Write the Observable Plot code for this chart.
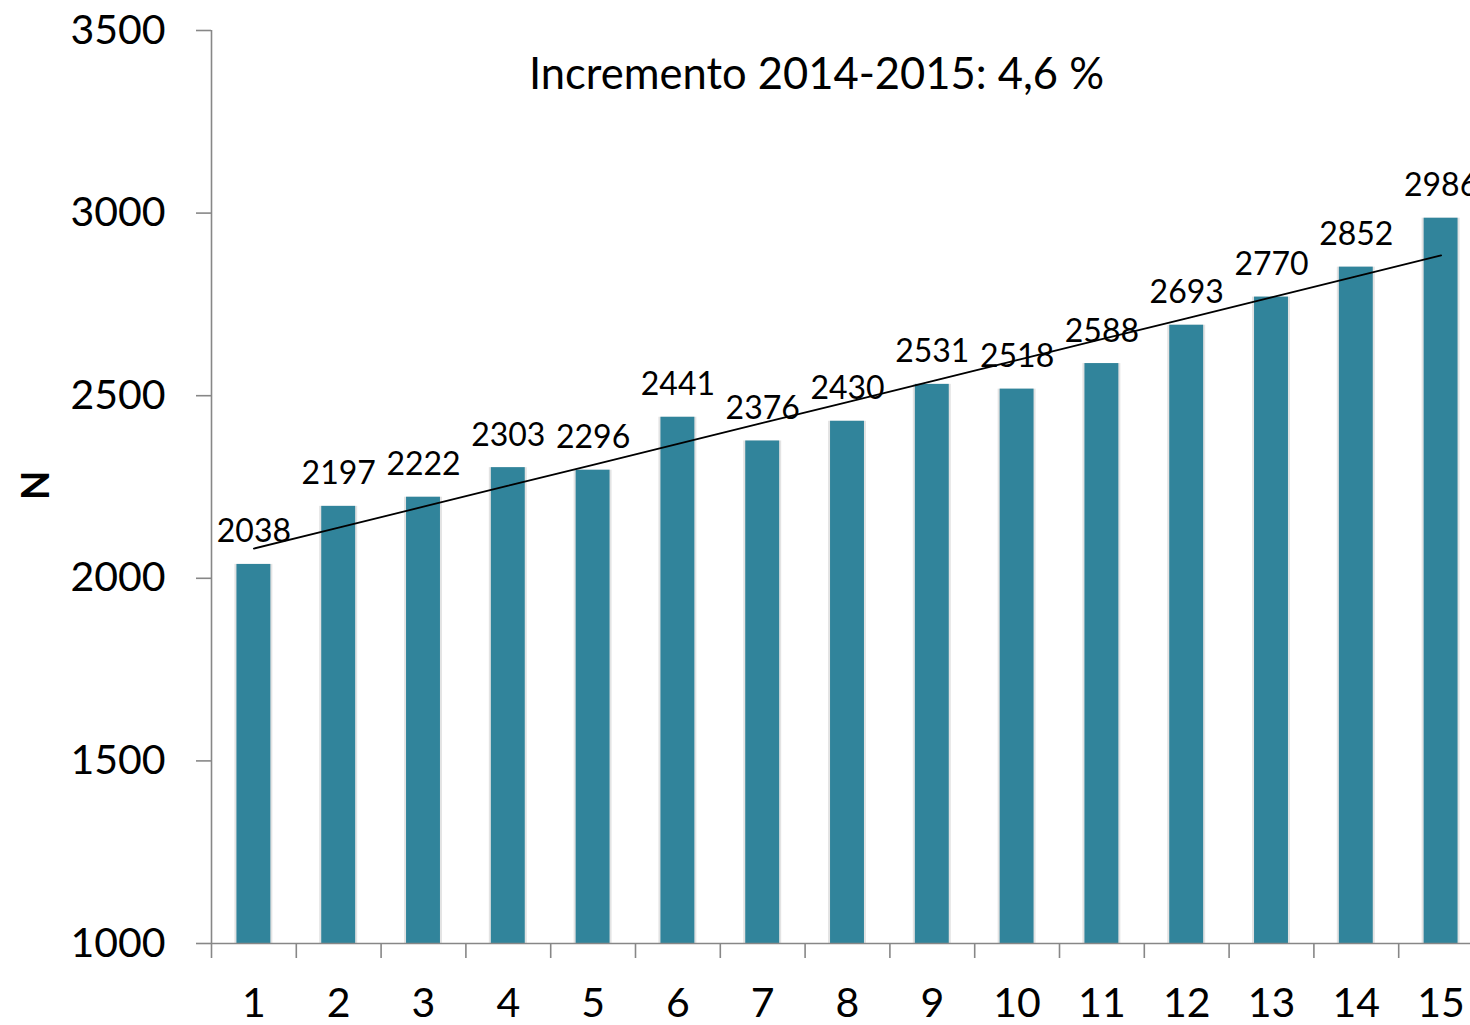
<!DOCTYPE html>
<html>
<head>
<meta charset="utf-8">
<script src="https://cdn.jsdelivr.net/npm/d3@7"></script>
<script src="https://cdn.jsdelivr.net/npm/@observablehq/plot@0.6"></script>
<style>
  html, body { margin: 0; padding: 0; background: #fff; }
  #chart { width: 1470px; height: 1025px; overflow: hidden; }
</style>
</head>
<body>
<div id="chart"></div>
<script>
const categories = [1, 2, 3, 4, 5, 6, 7, 8, 9, 10, 11, 12, 13, 14, 15];
const values = [2038, 2197, 2222, 2303, 2296, 2441, 2376, 2430, 2531, 2518, 2588, 2693, 2770, 2852, 2986];
const yTicks = [1000, 1500, 2000, 2500, 3000, 3500];
const titleText = "Incremento 2014-2015: 4,6 %";
const yLabel = "N";

const data = categories.map((c, i) => ({cat: c, value: values[i]}));

// linear trend (least squares) computed from the data
const xm = d3.mean(categories), ym = d3.mean(values);
const slope = d3.sum(categories, (c, i) => (c - xm) * (values[i] - ym)) / d3.sum(categories, c => (c - xm) ** 2);
const trend = categories.map(c => ({cat: c, value: ym + slope * (c - xm)}));

const barColor = "#31849b";
const axisColor = "#878787";

const chart = Plot.plot({
  width: 1470,
  height: 1025,
  marginTop: 30,
  marginBottom: 82,
  marginLeft: 211,
  marginRight: -13,
  style: {fontFamily: "Lato, 'Open Sans', sans-serif", color: "#000", background: "#fff"},
  x: {type: "band", domain: categories, range: [211, 1483], paddingInner: 0.6, paddingOuter: 0.3, round: false, label: null},
  y: {domain: [1000, 3500], label: null},
  marks: [
    // shadow behind bars
    Plot.barY(data, {x: "cat", y1: 1000, y2: "value", fill: "#d0d0d0", fillOpacity: 0.6, insetLeft: -2, insetRight: -2, insetTop: -1, dy: 1}),
    Plot.barY(data, {x: "cat", y1: 1000, y2: "value", fill: barColor}),
    // axes lines
    Plot.ruleY([1000], {stroke: axisColor, strokeWidth: 1.6}),
    Plot.ruleX([categories[0]], {dx: -42.4, stroke: axisColor, strokeWidth: 1.6}),
    Plot.axisY({ticks: yTicks, tickFormat: d => String(d), tickSize: 15, tickPadding: 31, fontSize: 41, stroke: axisColor, strokeWidth: 1.6, label: null, color: "#000"}),
    Plot.axisX({tickSize: 15, dx: -42.4, tickFormat: () => "", stroke: axisColor, strokeWidth: 1.6, label: null}),
    Plot.axisX({tickSize: 0, tickPadding: 44, fontSize: 41, label: null}),
    // trend line
    Plot.line(trend, {x: "cat", y: "value", stroke: "#000", strokeWidth: 1.8}),
    // value labels
    Plot.text(data, {x: "cat", y: "value", text: d => String(d.value), dy: -22, lineAnchor: "bottom", fontSize: 32, fill: "#000"}),
    // title inside plot
    Plot.text([titleText], {frameAnchor: "top", dx: -31, dy: 58, lineAnchor: "bottom", fontSize: 43.5, fill: "#000"}),
    // y label
    Plot.text([yLabel], {frameAnchor: "left", dx: -163, dy: 13, rotate: -90, lineAnchor: "bottom", fontSize: 38, fontWeight: "bold", fill: "#000"})
  ]
});
document.getElementById("chart").appendChild(chart);
</script>
</body>
</html>
